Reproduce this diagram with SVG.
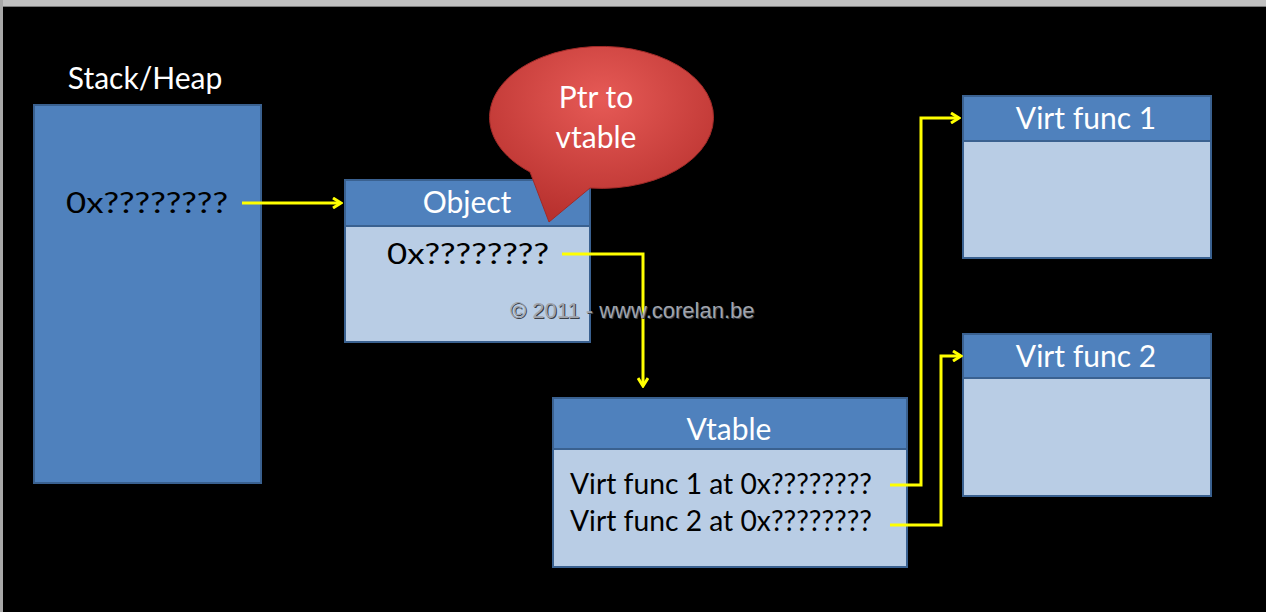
<svg xmlns="http://www.w3.org/2000/svg" width="1266" height="612" viewBox="0 0 1266 612">
  <style>
    .hdr { fill: #4f81bd; stroke: #3a6190; stroke-width: 2; }
    .body { fill: #b9cde5; stroke: #3a6190; stroke-width: 2; }
    .wt { font-family: Lato, "Open Sans", sans-serif; font-size: 30px; fill: #ffffff; }
    .bt { font-family: Lato, "Open Sans", sans-serif; font-size: 29px; fill: #000000; }
    .link { fill: none; stroke: #ffff00; stroke-width: 3; stroke-linejoin: miter; }
    .mark { font-family: "Liberation Sans", Arial, sans-serif; font-size: 22px; fill: #a0a4ac; }
    .markShadow { font-family: "Liberation Sans", Arial, sans-serif; font-size: 22px; fill: #3a3f48; }
  </style>
  <defs>
    <marker id="arrow" viewBox="0 0 12 12" refX="10" refY="6" markerWidth="12" markerHeight="12" markerUnits="userSpaceOnUse" orient="auto">
      <path d="M2,1 L10,6 L2,11" fill="none" stroke="#ffff00" stroke-width="3"/>
    </marker>
    <radialGradient id="bubbleFill" cx="0.5" cy="0.3" r="0.7">
      <stop offset="0" stop-color="#e65a56"/>
      <stop offset="1" stop-color="#b8312e"/>
    </radialGradient>
  </defs>

  <!-- page background with window frame -->
  <rect x="0" y="0" width="1266" height="612" fill="#000000"/>
  <rect x="0" y="0" width="1266" height="6" fill="#c0c0c0"/>
  <rect x="0" y="6" width="1266" height="1" fill="#7a7a7a"/>
  <rect x="0" y="0" width="3" height="612" fill="#a8a8a8"/>

  <!-- stack / heap -->
  <g id="stack">
    <text class="wt" x="145" y="89" text-anchor="middle">Stack/Heap</text>
    <rect x="34" y="105" width="227" height="378" class="hdr"/>
    <text class="bt" x="66" y="213" textLength="162" lengthAdjust="spacingAndGlyphs">0x????????</text>
  </g>

  <!-- object -->
  <g id="object">
    <rect x="345" y="226" width="245" height="116" class="body"/>
    <rect x="345" y="180" width="245" height="46" class="hdr"/>
    <text class="wt" x="467" y="213" text-anchor="middle">Object</text>
    <text class="bt" x="387" y="264" textLength="162" lengthAdjust="spacingAndGlyphs">0x????????</text>
  </g>

  <!-- callout -->
  <g id="callout">
    <path d="M530,172 A112,71 0 1 1 590,188 L549,222 Z" fill="url(#bubbleFill)" stroke="#a02a28" stroke-width="1"/>
    <text class="wt" x="596" y="108" text-anchor="middle">Ptr to</text>
    <text class="wt" x="596" y="148" text-anchor="middle">vtable</text>
  </g>

  <!-- vtable -->
  <g id="vtable">
    <rect x="553" y="449" width="354" height="118" class="body"/>
    <rect x="553" y="398" width="354" height="51" class="hdr"/>
    <text class="wt" x="729" y="440" text-anchor="middle">Vtable</text>
    <text class="bt" x="570" y="494" textLength="302" lengthAdjust="spacingAndGlyphs">Virt func 1 at 0x????????</text>
    <text class="bt" x="570" y="531" textLength="302" lengthAdjust="spacingAndGlyphs">Virt func 2 at 0x????????</text>
  </g>

  <!-- virtual functions -->
  <g id="vfunc1">
    <rect x="963" y="141" width="248" height="117" class="body"/>
    <rect x="963" y="96" width="248" height="45" class="hdr"/>
    <text class="wt" x="1086" y="129" text-anchor="middle">Virt func 1</text>
  </g>
  <g id="vfunc2">
    <rect x="963" y="378" width="248" height="118" class="body"/>
    <rect x="963" y="334" width="248" height="44" class="hdr"/>
    <text class="wt" x="1086" y="367" text-anchor="middle">Virt func 2</text>
  </g>

  <!-- pointers -->
  <g id="connectors">
    <path class="link" d="M242,203 H341" marker-end="url(#arrow)"/>
    <path class="link" d="M562,254 H643 V386" marker-end="url(#arrow)"/>
    <path class="link" d="M890,485 H921 V118 H959" marker-end="url(#arrow)"/>
    <path class="link" d="M890,525 H941 V356 H961" marker-end="url(#arrow)"/>
  </g>

  <!-- copyright watermark -->
  <text class="markShadow" x="511" y="319">© 2011 - www.corelan.be</text>
  <text class="mark" x="510" y="318">© 2011 - www.corelan.be</text>
</svg>
